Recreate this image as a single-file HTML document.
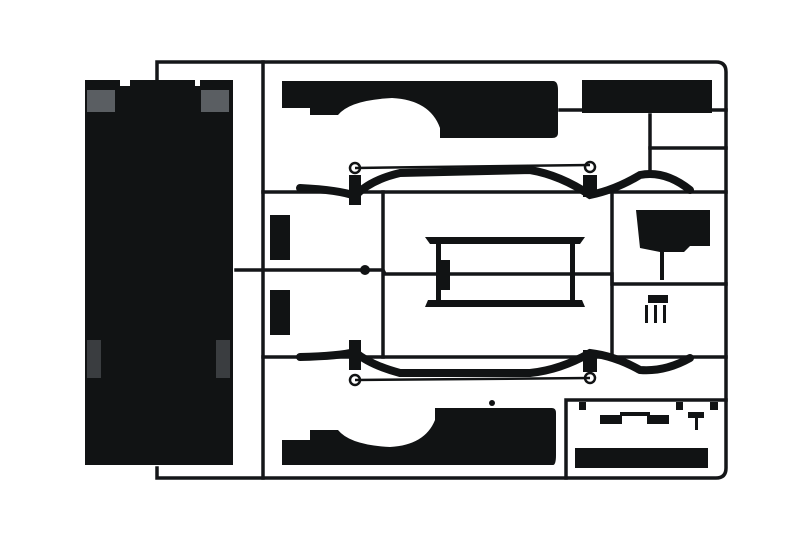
<!DOCTYPE html>
<html><head><meta charset="utf-8"><style>
html,body{margin:0;padding:0;background:#fff;width:800px;height:559px;overflow:hidden}
</style></head><body>
<svg width="800" height="559" viewBox="0 0 800 559" xmlns="http://www.w3.org/2000/svg">
<g fill="none" stroke="#141618" stroke-width="3.5" stroke-linecap="square">
<path d="M157 80 V62 H716 Q726 62 726 72 V468 Q726 478 716 478 H157 V468"/>
<path d="M263 62 V478"/>
<path d="M236 270 H383 L385 274 H612 V284 H726"/>
<path d="M263 192 H726"/>
<path d="M263 357 H726"/>
<path d="M383 192 V357"/>
<path d="M612 192 V357"/>
<path d="M650 115 V170"/>
<path d="M650 148 H726"/>
<path d="M560 110 H582 M712 110 H726"/>
<path d="M566 478 V400 H726"/>
<path d="M155 270 H160"/>
</g>
<g fill="#111314">
<path d="M85 80 H120 V86 H130 V80 H195 V86 H200 V80 H233 V465 H85 Z"/>
<rect x="87" y="90" width="28" height="22" fill="#5a5e62"/>
<rect x="201" y="90" width="28" height="22" fill="#5a5e62"/>
<rect x="87" y="340" width="14" height="38" fill="#3a3d40"/>
<rect x="216" y="340" width="14" height="38" fill="#3a3d40"/>
<path d="M282 81 H553 Q558 81 558 90 V133 Q558 138 552 138 H440 V128 Q430 100 392 98 Q350 100 338 115 H310 V108 H282 Z"/>
<path d="M282 465 H553 Q556 465 556 455 V413 Q556 408 552 408 H435 V420 Q425 445 390 447 Q350 445 338 430 H310 V440 H282 Z"/>
<rect x="582" y="80" width="130" height="33"/>
<rect x="575" y="448" width="133" height="20"/>
<path d="M636 210 H710 V246 H690 L684 252 H660 L640 248 Z"/>
<rect x="660" y="250" width="4" height="30"/>
<rect x="270" y="215" width="20" height="45"/>
<rect x="270" y="290" width="20" height="45"/>
<path d="M425 237 H585 L580 244 H430 Z"/>
<path d="M425 307 H585 L582 300 H428 Z"/>
<rect x="436" y="244" width="5" height="56"/>
<rect x="570" y="244" width="5" height="56"/>
<rect x="440" y="260" width="10" height="30"/>
<circle cx="365" cy="270" r="5"/>
<rect x="600" y="415" width="22" height="9"/>
<rect x="647" y="415" width="22" height="9"/>
<rect x="620" y="412" width="30" height="4"/>
<rect x="688" y="412" width="16" height="6"/>
<rect x="695" y="418" width="3" height="12"/>
<rect x="579" y="402" width="7" height="8"/>
<rect x="676" y="402" width="7" height="8"/>
<rect x="710" y="402" width="8" height="8"/>
<rect x="648" y="295" width="20" height="8"/>
<rect x="645" y="305" width="3" height="18"/>
<rect x="654" y="305" width="3" height="18"/>
<rect x="663" y="305" width="3" height="18"/>
<circle cx="492" cy="403" r="3"/>
</g>
<g fill="none" stroke="#111314" stroke-width="8" stroke-linecap="round">
<path d="M300 188 Q340 190 355 196 Q370 180 400 173 L530 170 Q560 175 590 195 Q615 190 640 175 Q665 170 690 190"/>
<path d="M300 357 Q340 356 355 352 Q370 365 400 373 L530 373 Q560 370 590 353 Q615 356 640 370 Q665 372 690 358"/>
</g>
<g fill="none" stroke="#111314" stroke-width="2.5">
<path d="M355 168 L590 165"/><path d="M355 380 L590 378"/>
<circle cx="355" cy="168" r="5"/><circle cx="590" cy="167" r="5"/>
<circle cx="355" cy="380" r="5"/><circle cx="590" cy="378" r="5"/>
</g>
<g fill="#111314">
<rect x="349" y="175" width="12" height="30"/><rect x="583" y="175" width="14" height="22"/>
<rect x="349" y="340" width="12" height="30"/><rect x="583" y="350" width="14" height="22"/>
</g>
</svg>
</body></html>
